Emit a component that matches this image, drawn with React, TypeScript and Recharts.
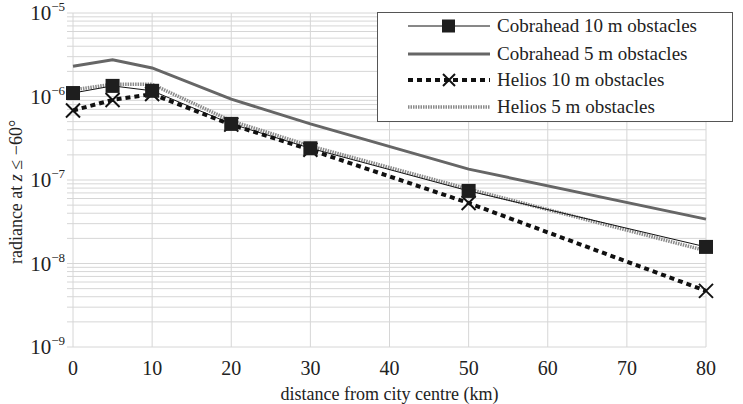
import React from 'react';
import { CartesianGrid, Legend, Line, LineChart, XAxis, YAxis, Label } from 'recharts';

// distance from city centre (km)
const distances = [0, 5, 10, 20, 30, 50, 80];
// radiance values
const cobrahead10 = [1.1e-6, 1.34e-6, 1.17e-6, 4.7e-7, 2.4e-7, 7.4e-8, 1.58e-8];
const cobrahead5 = [2.3e-6, 2.75e-6, 2.2e-6, 9.3e-7, 4.7e-7, 1.35e-7, 3.4e-8];
const helios10 = [6.8e-7, 9.1e-7, 1.07e-6, 4.6e-7, 2.3e-7, 5.3e-8, 4.7e-9];
const helios5 = [1.2e-6, 1.4e-6, 1.4e-6, 5.1e-7, 2.55e-7, 7.8e-8, 1.42e-8];

const xTicks = [0, 10, 20, 30, 40, 50, 60, 70, 80];
const decades = [-9, -8, -7, -6];
const yTicks: number[] = [];
decades.forEach(d => {
  for (let m = 1; m <= 9; m++) yTicks.push(Number((m * Math.pow(10, d)).toPrecision(3)));
});
yTicks.push(1e-5);

const data = distances.map((d, i) => ({
  distance: d,
  cobrahead10: cobrahead10[i],
  cobrahead5: cobrahead5[i],
  helios10: helios10[i],
  helios5: helios5[i],
}));

const FONT = '"Liberation Serif", "Times New Roman", serif';
const TEXT = '#222';

const SquareDot = (props: any) => {
  const { cx, cy, index } = props;
  if (cx == null || cy == null) return <g key={`sq-${index}`} />;
  return <rect key={`sq-${index}`} x={cx - 7} y={cy - 7} width={14} height={14} fill="#1e1e1e" />;
};

const CrossDot = (props: any) => {
  const { cx, cy, index } = props;
  if (cx == null || cy == null) return <g key={`x-${index}`} />;
  return (
    <g key={`x-${index}`} stroke="#111" strokeWidth={2}>
      <line x1={cx - 7} y1={cy - 7} x2={cx + 7} y2={cy + 7} />
      <line x1={cx - 7} y1={cy + 7} x2={cx + 7} y2={cy - 7} />
    </g>
  );
};

const YTick = ({ y, payload }: any) => {
  const lg = Math.log10(payload.value);
  const e = Math.round(lg);
  if (Math.abs(lg - e) > 1e-6) return <g />;
  return (
    <text x={65} y={y + 7} textAnchor="end" fontFamily={FONT} fill={TEXT} fontSize={21}>
      <tspan>10</tspan>
      <tspan dy={-9} fontSize={13}>{'\u2212' + -e}</tspan>
    </text>
  );
};

const XTick = ({ x, y, payload }: any) => (
  <text x={x} y={y + 20} textAnchor="middle" fontFamily={FONT} fill={TEXT} fontSize={20}>
    {payload.value}
  </text>
);

const YLabel = () => (
  <text transform="translate(22,192) rotate(-90)" textAnchor="middle" fontFamily={FONT} fill={TEXT} fontSize={18}>
    <tspan>radiance at </tspan>
    <tspan fontStyle="italic">z</tspan>
    <tspan> {'\u2264 \u221260\u00b0'}</tspan>
  </text>
);

const legendItems = [
  { label: 'Cobrahead 10 m obstacles', stroke: '#111', width: 1, dash: undefined, marker: 'square' },
  { label: 'Cobrahead 5 m obstacles', stroke: '#666', width: 3, dash: undefined, marker: '' },
  { label: 'Helios 10 m obstacles', stroke: '#111', width: 4, dash: '5 4', marker: 'cross' },
  { label: 'Helios 5 m obstacles', stroke: '#8a8a8a', width: 3.5, dash: '1.5 1', marker: '' },
];
const legendRows = [13, 41, 67, 94];

const renderLegend = () => (
  <div
    style={{
      position: 'relative',
      border: '1px solid #555',
      background: '#fff',
      width: 354,
      height: 108,
      fontFamily: FONT,
      color: TEXT,
      fontSize: 19,
    }}
  >
    {legendItems.map((item, i) => (
      <React.Fragment key={item.label}>
        <svg width={84} height={20} style={{ position: 'absolute', left: 29, top: legendRows[i] - 10 }}>
          <line x1={1} y1={10} x2={83} y2={10} stroke={item.stroke} strokeWidth={item.width} strokeDasharray={item.dash} />
          {item.marker === 'square' && <rect x={35} y={3.5} width={13} height={13} fill="#1e1e1e" />}
          {item.marker === 'cross' && (
            <g stroke="#111" strokeWidth={2}>
              <line x1={36} y1={4} x2={48} y2={16} />
              <line x1={36} y1={16} x2={48} y2={4} />
            </g>
          )}
        </svg>
        <span style={{ position: 'absolute', left: 119, top: legendRows[i] - 12, lineHeight: '24px', whiteSpace: 'nowrap' }}>
          {item.label}
        </span>
      </React.Fragment>
    ))}
  </div>
);

const App = () => {
  return (
    <div style={{ position: 'absolute', left: 0, top: 0, background: '#fff' }}>
      <LineChart width={743} height={404} data={data} margin={{ top: 13, right: 37, left: 0, bottom: 0 }}>
        <CartesianGrid stroke="#d6d6d6" strokeWidth={1} />
        <XAxis
          dataKey="distance"
          type="number"
          domain={[0, 80]}
          ticks={xTicks}
          interval={0}
          axisLine={false}
          tickLine={false}
          height={57}
          tick={<XTick />}
        >
          <Label
            value="distance from city centre (km)"
            position="insideBottom"
            offset={4}
            style={{ fontFamily: FONT, fill: TEXT, fontSize: 18 }}
          />
        </XAxis>
        <YAxis
          scale="log"
          domain={[1e-9, 1e-5]}
          ticks={yTicks}
          interval={0}
          allowDataOverflow
          axisLine={false}
          tickLine={{ stroke: '#d6d6d6' }}
          tickSize={6}
          width={73}
          tick={<YTick />}
          label={<YLabel />}
        />
        <Legend
          layout="vertical"
          align="center"
          verticalAlign="middle"
          content={renderLegend}
          wrapperStyle={{ top: 12, left: 377, width: 356 }}
        />
        <Line dataKey="cobrahead5" stroke="#666" strokeWidth={3} dot={false} isAnimationActive={false} />
        <Line dataKey="helios5" stroke="#8a8a8a" strokeWidth={3.5} strokeDasharray="1.5 1" dot={false} isAnimationActive={false} />
        <Line dataKey="helios10" stroke="#111" strokeWidth={4} strokeDasharray="5 4" dot={CrossDot} isAnimationActive={false} />
        <Line dataKey="cobrahead10" stroke="#111" strokeWidth={1} dot={SquareDot} isAnimationActive={false} />
      </LineChart>
    </div>
  );
};

export default App;
